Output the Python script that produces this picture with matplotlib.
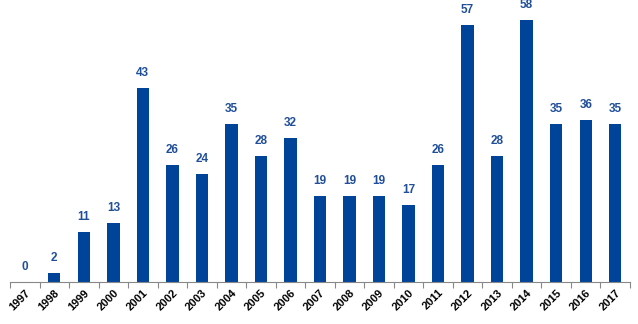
import matplotlib.pyplot as plt
import numpy as np

years = [str(y) for y in range(1997, 2018)]
counts = [0, 2, 11, 13, 43, 26, 24, 35, 28, 32, 19, 19, 19, 17, 26, 57, 28, 58, 35, 36, 35]

bar_color = '#00449A'
label_color = '#1F4E9A'

fig = plt.figure(figsize=(6.38, 3.24), dpi=100)
ax = fig.add_axes([10 / 638, 42 / 324, 620 / 638, 282 / 324])

x = np.arange(len(years))
ax.bar(x, counts, width=0.42, color=bar_color)

for xi, v in zip(x, counts):
    ax.text(xi, v + 2.0, str(v), ha='center', va='bottom', fontsize=8.5,
            fontweight='bold', color=label_color, family='Liberation Sans')

ax.set_xlim(-0.5, len(years) - 0.5)
ax.set_ylim(0, 62.5)

for s in ['top', 'right', 'left']:
    ax.spines[s].set_visible(False)
ax.spines['bottom'].set_color('#888888')
ax.set_yticks([])

# tick marks between categories, labels centered on bars
ax.set_xticks(np.arange(-0.5, len(years)), minor=False)
ax.set_xticklabels([])
ax.tick_params(axis='x', which='major', length=4, color='#888888')
ax.set_xticks(x, minor=True)
ax.set_xticklabels(years, minor=True, rotation=45, ha='right', rotation_mode='anchor',
                   fontsize=8, fontweight='bold', family='Liberation Sans')
ax.tick_params(axis='x', which='minor', length=0, pad=4)

fig.savefig('out.png', dpi=100)
